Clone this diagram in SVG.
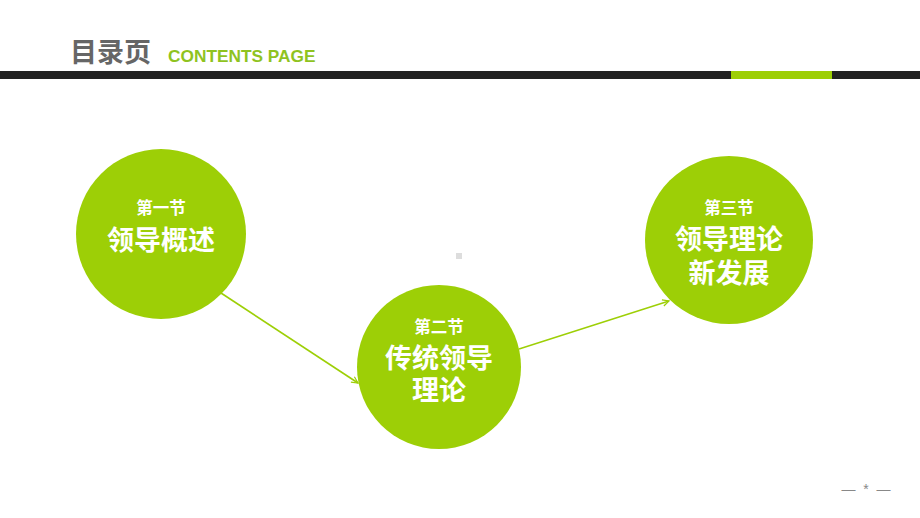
<svg xmlns="http://www.w3.org/2000/svg" width="920" height="518" viewBox="0 0 920 518">
<style>
.c{fill:#9dcf06}
.t{font-family:"Noto Sans CJK SC","Liberation Sans",sans-serif;font-weight:bold;fill:#fff;text-anchor:middle}
.s{font-size:16.5px}
.b{font-size:27px}
.ln{stroke:#9dcf06;stroke-width:1.6;fill:none}
</style>
<defs>
<marker id="ah" viewBox="0 0 10 10" refX="9" refY="5" markerWidth="8" markerHeight="8" markerUnits="userSpaceOnUse" orient="auto">
<path d="M1,1 L9,5 L1,9" fill="none" stroke="#9dcf06" stroke-width="1.5"/>
</marker>
</defs>
<rect width="920" height="518" fill="#fff"/>
<text x="70" y="62" font-family="Noto Sans CJK SC,Liberation Sans,sans-serif" font-weight="bold" font-size="27" fill="#666">目录页</text>
<text x="168" y="62" font-family="Liberation Sans,Arial,sans-serif" font-weight="bold" font-size="17.3" fill="#8fc31f">CONTENTS PAGE</text>
<rect x="0" y="71" width="920" height="8" fill="#222"/>
<rect x="731" y="71" width="101" height="8" fill="#9dcf06"/>
<rect x="456" y="253" width="6" height="6" fill="#ddd"/>
<g id="connectors">
<line class="ln" x1="221" y1="293" x2="358" y2="383" marker-end="url(#ah)"/>
<line class="ln" x1="519" y1="349" x2="669" y2="301" marker-end="url(#ah)"/>
</g>
<g id="node1">
<circle class="c" cx="161" cy="234" r="85"/>
<text class="t s" x="161" y="214">第一节</text>
<text class="t b" x="161" y="250">领导概述</text>
</g>
<g id="node2">
<circle class="c" cx="439" cy="367" r="82"/>
<text class="t s" x="439" y="333">第二节</text>
<text class="t b" x="439" y="368">传统领导<tspan x="439" dy="32">理论</tspan></text>
</g>
<g id="node3">
<circle class="c" cx="729" cy="240" r="84"/>
<text class="t s" x="729" y="214">第三节</text>
<text class="t b" x="729" y="249">领导理论<tspan x="729" dy="34">新发展</tspan></text>
</g>
<text x="866" y="494" font-family="Liberation Sans,sans-serif" font-size="14" fill="#888" text-anchor="middle" xml:space="preserve">—  *  —</text>
</svg>
